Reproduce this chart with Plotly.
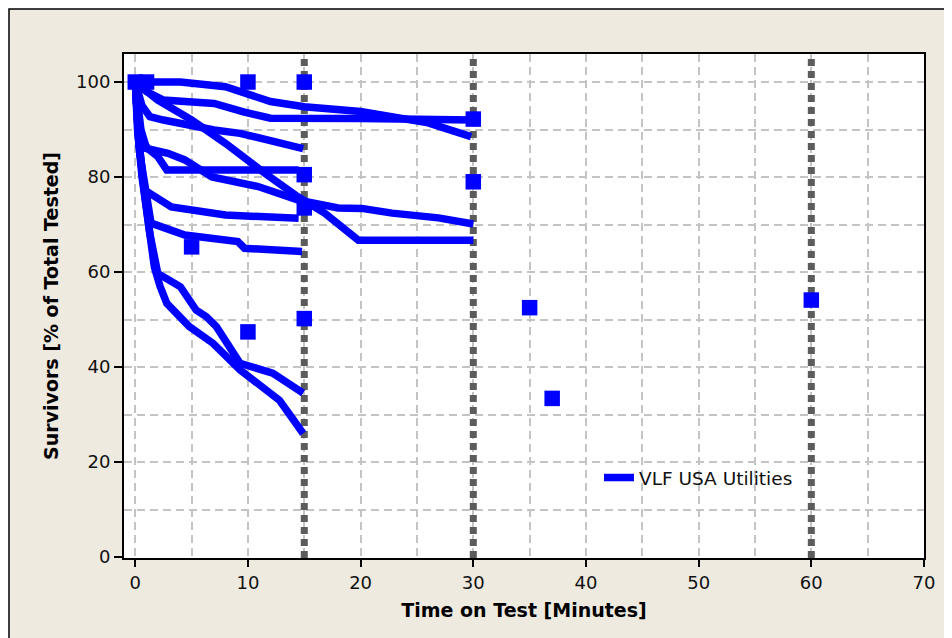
import plotly.graph_objects as go

# ---- data (time in minutes, survivors in % of total tested) ----
t_a = [0, 4, 8, 10, 12, 15, 20, 26, 29.8]
s_a = [100, 100, 99, 97.3, 95.9, 94.8, 93.8, 91.4, 88.5]
t_b = [0, 1, 2.5, 7, 9.6, 12, 20, 30]
s_b = [100, 98, 96.2, 95.5, 93.7, 92.4, 92.3, 92]
t_c = [0, 0.6, 1.3, 2.5, 7, 9.3, 14.9]
s_c = [100, 95, 92.7, 92, 89.9, 89.2, 86]
t_d = [0, 2, 5, 8, 11.5, 14.4, 16.8, 19.8, 30]
s_d = [100, 96.2, 92, 87.1, 80.8, 75.9, 72.4, 66.7, 66.7]
t_e = [0, 0.3, 1.1, 2, 2.8, 14.5]
s_e = [100, 89, 86, 84.3, 81.5, 81.5]
t_f = [0, 0.5, 1, 2.9, 4.4, 6.8, 10.9, 14.4, 18, 20.1, 22.8, 26.9, 30]
s_f = [100, 90, 86, 85, 83.6, 80, 78, 75.2, 73.5, 73.4, 72.4, 71.4, 70.1]
t_g = [0, 0.3, 0.8, 3.2, 8, 14.5]
s_g = [100, 88, 77.3, 73.7, 72, 71.3]
t_h = [0, 0.4, 1.4, 4.4, 9.1, 9.7, 14.8]
s_h = [100, 85, 70.3, 67.8, 66.4, 65, 64.3]
t_i = [0, 0.2, 0.6, 1.1, 1.7, 2.2, 2.8, 4.8, 6.9, 9.3, 12.8, 14.9]
s_i = [100, 90, 80, 70, 61, 57, 53.4, 48.5, 45, 39.4, 33, 26]
t_j = [0, 0.3, 0.8, 1.3, 2, 4, 5.4, 6.3, 7.2, 9.3, 12.2, 14.9]
s_j = [100, 88, 77, 68, 59.7, 56.9, 52, 50.6, 48.5, 40.8, 38.7, 34.5]

curve_times = [t_a, t_b, t_c, t_d, t_e, t_f, t_g, t_h, t_i, t_j]
curve_survivors = [s_a, s_b, s_c, s_d, s_e, s_f, s_g, s_h, s_i, s_j]

point_times = [0, 1, 10, 15, 15, 15, 15, 5, 10, 30, 30, 35, 37, 60]
point_survivors = [100, 100, 100, 100, 80.5, 73.5, 50.2, 65.3, 47.4, 92.2, 79, 52.5, 33.4, 54.1]

test_durations = [15, 30, 60]
x_ticks = [0, 10, 20, 30, 40, 50, 60, 70]
y_ticks = [0, 20, 40, 60, 80, 100]
x_range = [-1, 70]
y_range = [-0.2, 105.9]

series_name = "VLF USA Utilities"
BLUE = "#0000FF"
FONT = "DejaVu Sans"

# figure geometry (page shows the figure offset by the 8px body margin)
W, H = 944, 630
L, T, R, B = 116, 46, 916, 550
PW, PH = R - L, B - T

fig = go.Figure()

# test-duration reference lines (drawn first: above grid, below curves)
ref_x, ref_y = [], []
for d in test_durations:
    ref_x += [d, d, None]
    ref_y += [y_range[0], y_range[1], None]
fig.add_trace(go.Scatter(
    x=ref_x, y=ref_y, mode="lines", showlegend=False, hoverinfo="skip",
    line=dict(color="#5C5C5C", width=7, dash="7px,5px"),
))

for k, (tt, ss) in enumerate(zip(curve_times, curve_survivors)):
    fig.add_trace(go.Scatter(
        x=tt, y=ss, mode="lines", name=series_name,
        line=dict(color=BLUE, width=7.5),
        showlegend=(k == 0), legendgroup="vlf", hoverinfo="x+y",
    ))
fig.add_trace(go.Scatter(
    x=point_times, y=point_survivors, mode="markers", name=series_name,
    marker=dict(symbol="square", size=15.5, color=BLUE, line=dict(width=0)),
    showlegend=False, legendgroup="vlf",
))

shapes = [
    # beige outer frame
    dict(type="rect", xref="paper", yref="paper", layer="below",
         x0=(1 - L) / PW, x1=1.2, y0=-0.3, y1=1 + (T - 1) / PH,
         fillcolor="#EEEAE0", line=dict(color="black", width=1.5)),
    # white plot area
    dict(type="rect", xref="paper", yref="paper", layer="below",
         x0=0, x1=1, y0=0, y1=1, fillcolor="white", line=dict(width=0)),
]

fig.update_layout(
    width=W, height=H,
    margin=dict(l=L, r=W - R, t=T, b=H - B),
    paper_bgcolor="white", plot_bgcolor="rgba(0,0,0,0)",
    font=dict(family=FONT, size=18, color="#111111"),
    shapes=shapes,
    showlegend=True,
    legend=dict(x=(599 - 8 - L) / PW, y=(B - (478 - 8)) / PH, xanchor="left", yanchor="middle",
                bgcolor="rgba(0,0,0,0)", borderwidth=0,
                font=dict(family=FONT, size=18.5, color="#111111")),
    xaxis=dict(
        range=x_range, tickvals=x_ticks, ticks="outside", ticklen=7, tickwidth=2, tickcolor="black",
        showline=True, linecolor="black", linewidth=2, mirror=True,
        showgrid=True, gridcolor="#C4C4C4", gridwidth=1.5, griddash="8px,5px",
        minor=dict(dtick=5, tick0=0, showgrid=True, gridcolor="#C4C4C4", gridwidth=1.5, griddash="8px,5px"),
        zeroline=False,
        title=dict(text="<b>Time on Test [Minutes]</b>", standoff=12,
                   font=dict(family=FONT, size=19, color="black")),
        tickfont=dict(family=FONT, size=18),
    ),
    yaxis=dict(
        range=y_range, tickvals=y_ticks, ticks="outside", ticklen=8, tickwidth=2, tickcolor="black",
        showline=True, linecolor="black", linewidth=2, mirror=True,
        showgrid=True, gridcolor="#C4C4C4", gridwidth=1.5, griddash="8px,5px",
        minor=dict(dtick=10, tick0=0, showgrid=True, gridcolor="#C4C4C4", gridwidth=1.5, griddash="8px,5px"),
        zeroline=False,
        title=dict(text="<b>Survivors [% of Total Tested]</b>", standoff=12,
                   font=dict(family=FONT, size=19, color="black")),
        tickfont=dict(family=FONT, size=18),
    ),
)

fig.write_html("out.html")
